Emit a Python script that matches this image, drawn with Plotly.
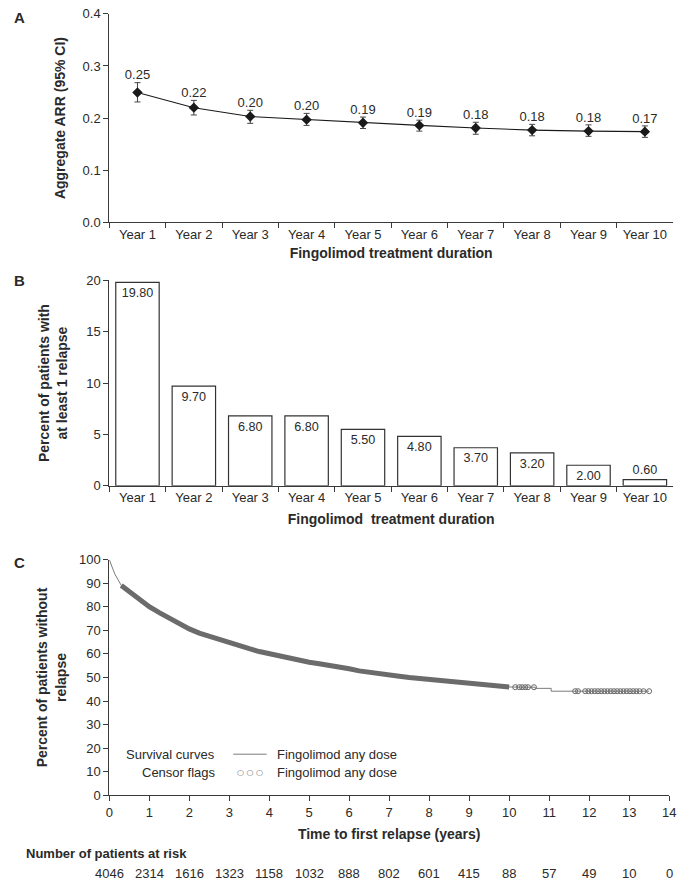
import plotly.graph_objects as go

# ---------------- data ----------------
years = ["Year 1", "Year 2", "Year 3", "Year 4", "Year 5",
         "Year 6", "Year 7", "Year 8", "Year 9", "Year 10"]

arr = [0.249, 0.220, 0.203, 0.197, 0.191, 0.186, 0.181, 0.177, 0.175, 0.174]
arr_hi = [0.268, 0.234, 0.215, 0.209, 0.202, 0.196, 0.192, 0.188, 0.187, 0.185]
arr_lo = [0.231, 0.206, 0.190, 0.186, 0.180, 0.175, 0.169, 0.166, 0.165, 0.163]
arr_labels = ["0.25", "0.22", "0.20", "0.20", "0.19", "0.19", "0.18", "0.18", "0.18", "0.17"]

pct_relapse = [19.80, 9.70, 6.80, 6.80, 5.50, 4.80, 3.70, 3.20, 2.00, 0.60]

# Kaplan-Meier curve (time in years, % without relapse)
km_t = [0, 0.05, 0.1, 0.15, 0.2, 0.25, 0.3, 0.4, 0.5, 0.6, 0.75, 1.0, 1.25, 1.5,
        1.75, 2.0, 2.25, 2.5, 2.75, 3.0, 3.25, 3.5, 3.75, 4.0, 4.25, 4.5, 4.75,
        5.0, 5.25, 5.5, 5.75, 6.0, 6.25, 6.5, 6.75, 7.0, 7.25, 7.5, 7.75, 8.0,
        8.25, 8.5, 8.75, 9.0, 9.25, 9.5, 9.75, 10.0, 10.25, 10.65, 10.65, 11.05,
        11.05, 13.5]
km_s = [100, 97.5, 95.5, 93.5, 91.8, 90.3, 89.0, 87.7, 86.5, 85.2, 83.2, 80.0,
        77.5, 75.0, 72.8, 70.6, 68.8, 67.4, 66.2, 65.0, 63.6, 62.2, 61.0, 60.0,
        59.0, 58.1, 57.3, 56.5, 55.8, 55.2, 54.4, 53.7, 52.8, 52.1, 51.7, 51.1,
        50.5, 50.0, 49.6, 49.2, 48.7, 48.5, 48.1, 47.6, 47.1, 46.9, 46.6, 46.0,
        45.9, 45.9, 45.4, 45.4, 44.2, 44.2]

# dense censoring region (drawn as a band of overlapping flags)
band_start, band_end = 0.3, 10.0

# sparse censor flags in the tail
cens_t = [10.15, 10.25, 10.32, 10.40, 10.47, 10.62,
          11.65, 11.72, 11.90, 11.98, 12.06, 12.14, 12.22, 12.30, 12.38, 12.46,
          12.54, 12.62, 12.70, 12.78, 12.86, 12.94, 13.02, 13.10, 13.18, 13.26,
          13.36, 13.50]
cens_s = [45.9, 45.9, 45.9, 45.9, 45.9, 45.9,
          44.2, 44.2, 44.2, 44.2, 44.2, 44.2, 44.2, 44.2, 44.2, 44.2,
          44.2, 44.2, 44.2, 44.2, 44.2, 44.2, 44.2, 44.2, 44.2, 44.2,
          44.2, 44.2]

risk_t = list(range(0, 15))
risk_n = [4046, 2314, 1616, 1323, 1158, 1032, 888, 802, 601, 415, 88, 57, 49, 10, 0]

# ---------------- style ----------------
FONT = "Liberation Sans, Arial, sans-serif"
TXT = "#2a2a2a"
AX = "#3a3a3a"
GRAY = "#6b6b6b"
H = 890.0
W = 685.0


def py(p):
    return 1 - p / H


fig = go.Figure()

# ---- Panel A ----
fig.add_trace(go.Scatter(
    x=years, y=arr, mode="lines+markers",
    line=dict(color="#1a1a1a", width=1.1),
    marker=dict(symbol="diamond", size=8, color="#1a1a1a"),
    error_y=dict(type="data", symmetric=False,
                 array=[h - v for h, v in zip(arr_hi, arr)],
                 arrayminus=[v - l for v, l in zip(arr, arr_lo)],
                 color="#444444", thickness=1, width=3),
    xaxis="x", yaxis="y", showlegend=False))
fig.add_trace(go.Scatter(
    x=years, y=arr_hi, mode="text", text=arr_labels,
    textposition="top center", textfont=dict(family=FONT, size=13, color=TXT),
    xaxis="x", yaxis="y", showlegend=False, hoverinfo="skip"))

# ---- Panel B ----
fig.add_trace(go.Bar(
    x=years, y=pct_relapse, width=0.77,
    marker=dict(color="white", line=dict(color="#333333", width=1.2)),
    text=[f"{v:.2f}" for v in pct_relapse],
    textposition=["inside"] * 9 + ["outside"],
    insidetextanchor="end",
    textfont=dict(family=FONT, size=13, color=TXT),
    cliponaxis=False,
    xaxis="x2", yaxis="y2", showlegend=False))

# ---- Panel C ----
fig.add_trace(go.Scatter(
    x=km_t, y=km_s, mode="lines",
    line=dict(color="#7a7a7a", width=1),
    xaxis="x3", yaxis="y3", showlegend=False))
band_t = [t for t in km_t if band_start <= t <= band_end]
band_s = [s for t, s in zip(km_t, km_s) if band_start <= t <= band_end]
fig.add_trace(go.Scatter(
    x=band_t, y=band_s, mode="lines",
    line=dict(color=GRAY, width=5),
    xaxis="x3", yaxis="y3", showlegend=False, hoverinfo="skip"))
fig.add_trace(go.Scatter(
    x=cens_t, y=cens_s, mode="markers",
    marker=dict(symbol="circle-open", size=5, color=GRAY, line=dict(width=1)),
    xaxis="x3", yaxis="y3", showlegend=False))

# ---------------- axes ----------------
tickfont = dict(family=FONT, size=13, color=TXT)
titlefont = dict(family=FONT, size=14, color=TXT)
common = dict(showline=True, linecolor=AX, linewidth=1, ticks="outside",
              tickcolor=AX, ticklen=5, showgrid=False, zeroline=False,
              tickfont=tickfont)

xdom = [107 / W, 680 / W]

fig.update_layout(
    xaxis=dict(domain=xdom, anchor="y", type="category", range=[-0.5, 9.5],
               tickson="boundaries",
               title=dict(text="<b>Fingolimod treatment duration</b>", font=titlefont, standoff=7),
               **common),
    yaxis=dict(domain=[py(219), py(7)], anchor="x", range=[0, 0.4], dtick=0.1,
               tickformat=".1f",
               title=dict(text="<b>Aggregate ARR (95% CI)</b>", font=titlefont, standoff=13),
               **common),
    xaxis2=dict(domain=xdom, anchor="y2", type="category", range=[-0.5, 9.5],
                tickson="boundaries",
                title=dict(text="<b>Fingolimod  treatment duration</b>", font=titlefont, standoff=9),
                **common),
    yaxis2=dict(domain=[py(487), py(278)], anchor="x2", range=[0, 20], dtick=5,
                title=dict(text="<b>Percent of patients with<br>at least 1 relapse</b>",
                           font=titlefont, standoff=15),
                **common),
    xaxis3=dict(domain=[107 / W, 676 / W], anchor="y3", range=[0, 14], dtick=1,
                title=dict(text="<b>Time to first relapse (years)</b>", font=titlefont, standoff=10),
                **common),
    yaxis3=dict(domain=[py(802), py(562)], anchor="x3", range=[0, 100], dtick=10,
                title=dict(text="<b>Percent of patients without<br>relapse</b>",
                           font=titlefont, standoff=9),
                **common),
)

# ---------------- annotations / legend ----------------
ann = []
for lab, p in (("A", 11), ("B", 278), ("C", 565)):
    ann.append(dict(text=f"<b>{lab}</b>", x=8 / W, y=py(p), xref="paper", yref="paper",
                    xanchor="left", yanchor="middle", showarrow=False,
                    font=dict(family=FONT, size=15, color=TXT)))

row1, row2 = 760, 779
ann.append(dict(text="Survival curves", x=216 / W, y=py(row1), xref="paper", yref="paper",
                xanchor="right", yanchor="middle", showarrow=False,
                font=dict(family=FONT, size=13, color=TXT)))
ann.append(dict(text="Censor flags", x=216 / W, y=py(row2), xref="paper", yref="paper",
                xanchor="right", yanchor="middle", showarrow=False,
                font=dict(family=FONT, size=13, color=TXT)))
ann.append(dict(text="Fingolimod any dose", x=275 / W, y=py(row1), xref="paper", yref="paper",
                xanchor="left", yanchor="middle", showarrow=False,
                font=dict(family=FONT, size=13, color=TXT)))
ann.append(dict(text="Fingolimod any dose", x=275 / W, y=py(row2), xref="paper", yref="paper",
                xanchor="left", yanchor="middle", showarrow=False,
                font=dict(family=FONT, size=13, color=TXT)))
ann.append(dict(text="○ ○ ○", x=250 / W, y=py(row2), xref="paper", yref="paper",
                xanchor="center", yanchor="middle", showarrow=False,
                font=dict(family="DejaVu Sans, sans-serif", size=8, color=GRAY)))

ann.append(dict(text="<b>Number of patients at risk</b>", x=20 / W, y=py(861),
                xref="paper", yref="paper", xanchor="left", yanchor="middle",
                showarrow=False, font=dict(family=FONT, size=13, color=TXT)))
for t, n in zip(risk_t, risk_n):
    ann.append(dict(text=str(n), x=t, y=py(881), xref="x3", yref="paper",
                    xanchor="center", yanchor="middle", showarrow=False,
                    font=dict(family=FONT, size=13, color=TXT)))

shapes = [dict(type="line", xref="paper", yref="paper",
               x0=233 / W, x1=267 / W, y0=py(row1), y1=py(row1),
               line=dict(color="#7a7a7a", width=1))]

fig.update_layout(
    width=685, height=890,
    margin=dict(l=0, r=0, t=0, b=0),
    paper_bgcolor="white", plot_bgcolor="white",
    font=dict(family=FONT, size=13, color=TXT),
    annotations=ann, shapes=shapes,
    uniformtext=dict(minsize=12, mode="show"),
    showlegend=False,
)

fig.write_html("out.html",
               config={"displayModeBar": False},
               post_script="document.body.style.margin='0';document.body.style.overflow='hidden';")
